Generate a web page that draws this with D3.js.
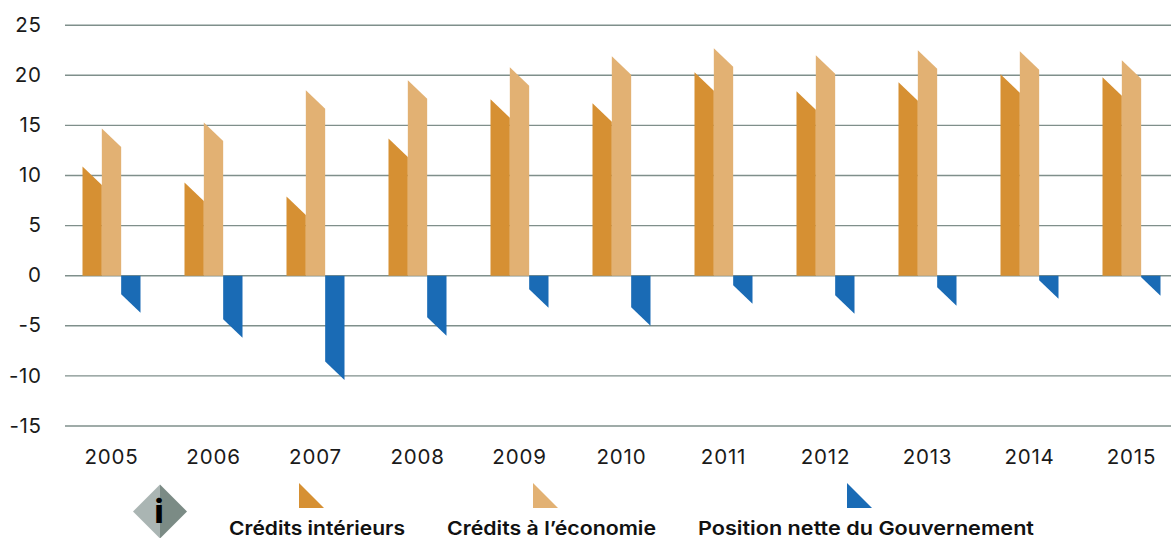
<!DOCTYPE html>
<html><head><meta charset="utf-8">
<script src="https://cdnjs.cloudflare.com/ajax/libs/d3/7.8.5/d3.min.js"></script>
<style>html,body{margin:0;padding:0;background:#fff}svg{display:block}text{font-family:Inter,"Open Sans",sans-serif}</style>
</head><body><svg id="c" width="1171" height="538"></svg>
<script>
const years=[2005,2006,2007,2008,2009,2010,2011,2012,2013,2014,2015];
const creditsInterieurs=[10.9,9.3,7.9,13.7,17.6,17.2,20.3,18.4,19.3,20.1,19.8];
const creditsEconomie=[14.7,15.3,18.5,19.5,20.8,21.9,22.7,22.0,22.5,22.4,21.5];
const positionNette=[-3.7,-6.2,-10.4,-6.0,-3.2,-5.0,-2.8,-3.8,-3.0,-2.3,-2.0];
const yTicks=[25,20,15,10,5,0,-5,-10,-15];
const seriesNames=["Crédits intérieurs","Crédits à l’économie","Position nette du Gouvernement"];
const colors=["#d69033","#e2b173","#1a6bb5"];

const svg=d3.select("#c");
const y=d3.scaleLinear().domain([-15,25]).range([426,25.2]);
const x=d3.scaleBand().domain(years).range([60.5,1182.5]).paddingInner(0).paddingOuter(0);
const sub=d3.scaleBand().domain([0,1,2]).range([22,80]);
const slant=18.5;

const yAxis=d3.axisLeft(y).tickValues(yTicks).tickSize(0).tickFormat(d=>d);
const gy=svg.append("g").attr("transform","translate(41.5,0)").call(yAxis);
gy.select(".domain").remove();
gy.selectAll("text").attr("x",0).attr("dy","0.3em").attr("font-size",20.5).attr("fill","#1a1a1a").attr("letter-spacing",0.6).style("font-family","Inter");

svg.append("g").selectAll("line").data(yTicks).join("line")
 .attr("x1",65).attr("x2",1171).attr("y1",d=>y(d)).attr("y2",d=>y(d))
 .attr("stroke","#7f8f8b").attr("stroke-width",1.4);

const bars=svg.append("g");
[creditsInterieurs,creditsEconomie,positionNette].forEach((vals,s)=>{
 bars.selectAll("path.s"+s).data(vals).join("path").attr("class","s"+s).attr("fill",colors[s])
  .attr("d",(v,i)=>{
   const x0=x(years[i])+sub(s), x1=x0+sub.bandwidth(), y0=y(0), t=y(v);
   const second=v>=0?t+slant:t-slant;
   return d3.line()([[x0,y0],[x0,v>=0?t:second],[x1,v>=0?second:t],[x1,y0]])+"Z";
  });
});

svg.append("g").selectAll("text").data(years).join("text")
 .attr("x",d=>x(d)+x.bandwidth()/2).attr("y",464).attr("text-anchor","middle")
 .attr("font-size",20.5).attr("letter-spacing",0.8).attr("fill","#1a1a1a").text(d=>d);

const legendTri=[299,533,847];
const legendText=[229,447,698];
const legendW=[176,209,336];
seriesNames.forEach((n,i)=>{
 const a=legendTri[i];
 svg.append("path").attr("fill",colors[i]).attr("d",d3.line()([[a,483],[a+25,508],[a,508]])+"Z");
 svg.append("text").attr("x",legendText[i]).attr("y",534.5).attr("font-size",19).attr("font-weight",600)
  .attr("fill","#111").attr("textLength",legendW[i]).attr("lengthAdjust","spacingAndGlyphs").text(n);
});
const cx=160,cy=511.5,r=27;
svg.append("path").attr("fill","#aab5b3").attr("d",d3.line()([[cx,cy-r],[cx,cy+r],[cx-r,cy]])+"Z");
svg.append("path").attr("fill","#7b8b85").attr("d",d3.line()([[cx,cy-r],[cx+r,cy],[cx,cy+r]])+"Z");
svg.append("text").attr("x",cx-1).attr("y",523).attr("text-anchor","middle").attr("font-size",32).attr("font-weight",800).attr("fill","#000").text("i");
</script></body></html>
